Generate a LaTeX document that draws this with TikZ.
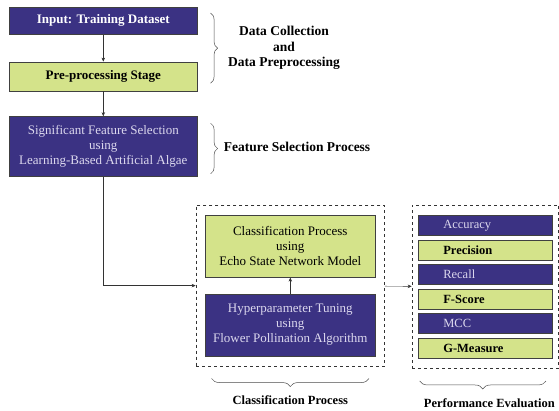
\documentclass[tikz,border=0pt]{standalone}
\usepackage{xcolor}
\usepackage{fontspec}
\setmainfont{Liberation Serif}
\usepackage{tikz}
\usetikzlibrary{positioning,arrows.meta,fit,decorations.pathreplacing}

\definecolor{stagepurple}{RGB}{59,50,131}
\definecolor{stagegreen}{RGB}{212,227,138}
\definecolor{palelilac}{RGB}{220,216,238}

\begin{document}
\begin{tikzpicture}[
  x=1pt, y=1pt,
  every node/.style={font=\fontsize{13}{15}\selectfont},
  box/.style={draw=black!75, line width=0.6pt, minimum width=188pt, inner sep=3pt, align=center},
  darkbox/.style={box, fill=stagepurple, text=palelilac},
  lightbox/.style={box, fill=stagegreen, text=black},
  metric/.style={draw=black!75, line width=0.6pt, minimum width=134pt, minimum height=20pt,
    text width=84pt, inner xsep=25pt, inner ysep=0pt, align=left, font=\fontsize{12.5}{14}\selectfont},
  group/.style={draw=black!80, dashed, line width=0.7pt},
  brc/.style={draw=black!70, line width=0.5pt, decorate, decoration={brace, amplitude=7pt}},
  sidelabel/.style={font=\fontsize{13.5}{15.5}\selectfont\bfseries, align=center},
  grouplabel/.style={font=\fontsize{12.5}{14}\selectfont\bfseries},
  >={Stealth[length=4pt, width=3.5pt]},
]
\useasboundingbox (0,0) rectangle (559,-410);

% left column
\node[darkbox, text=white, font=\fontsize{13}{15}\selectfont\bfseries, minimum height=27pt, anchor=north west] (input) at (9,-7) {Input: Training Dataset};
\node[lightbox, font=\fontsize{13}{15}\selectfont\bfseries, minimum height=29pt, below=27pt of input] (prep) {Pre-processing Stage};
\node[darkbox, minimum height=60pt, below=25pt of prep] (fsel) {Significant Feature Selection\\using\\Learning-Based Artificial Algae};

% classification block
\node[lightbox, minimum width=170pt, minimum height=62pt, anchor=north west] (clf) at (205,-215) {Classification Process\\using\\Echo State Network Model};
\node[darkbox, minimum width=170pt, minimum height=62pt, below=16pt of clf] (hyp) {Hyperparameter Tuning\\using\\Flower Pollination Algorithm};
\node[group, fit=(clf)(hyp), inner xsep=9pt, inner ysep=10pt] (clsgroup) {};

% performance block
\node[metric, fill=stagepurple, text=palelilac, anchor=north west] (acc) at (418,-215) {Accuracy};
\node[metric, fill=stagegreen, font=\fontsize{12.5}{14}\selectfont\bfseries, below=4pt of acc] (prec) {Precision};
\node[metric, fill=stagepurple, text=palelilac, below=4pt of prec] (rec) {Recall};
\node[metric, fill=stagegreen, font=\fontsize{12.5}{14}\selectfont\bfseries, below=4pt of rec] (fsc) {F-Score};
\node[metric, fill=stagepurple, text=palelilac, below=4pt of fsc] (mcc) {MCC};
\node[metric, fill=stagegreen, font=\fontsize{12.5}{14}\selectfont\bfseries, below=4pt of mcc] (gm) {G-Measure};
\node[group, fit=(acc)(gm), inner xsep=6pt, inner ysep=10pt] (perfgroup) {};

% labels
\node[sidelabel] (dclabel) at (284,-48) {Data Collection\\and\\Data Preprocessing};
\node[sidelabel] (fslabel) at (297,-147) {Feature Selection Process};
\node[grouplabel] (clslabel) at ([yshift=-34pt]clsgroup.south) {Classification Process};
\node[grouplabel] (perflabel) at ([xshift=4pt,yshift=-34pt]perfgroup.south) {Performance Evaluation};

% braces
\draw[brc] ([xshift=13pt,yshift=-6pt]input.north east) -- ([xshift=13pt,yshift=8pt]prep.south east);
\draw[brc] ([xshift=13pt,yshift=-7pt]fsel.north east) -- ([xshift=13pt,yshift=3pt]fsel.south east);
\draw[brc, decoration={amplitude=8pt}] ([xshift=-16pt,yshift=-12pt]clsgroup.south east) -- ([xshift=16pt,yshift=-12pt]clsgroup.south west);
\draw[brc, decoration={amplitude=8pt}] ([xshift=-13pt,yshift=-12pt]perfgroup.south east) -- ([xshift=8pt,yshift=-12pt]perfgroup.south west);

% connectors
\draw[->, black!80] (input) -- (prep);
\draw[->, black!80] (prep) -- (fsel);
\draw[->, black!80] (fsel.south) |- (clsgroup.west);
\draw[->, black!80] (hyp) -- (clf);
\draw[->, black!80] (clsgroup) -- (perfgroup);
\end{tikzpicture}
\end{document}
